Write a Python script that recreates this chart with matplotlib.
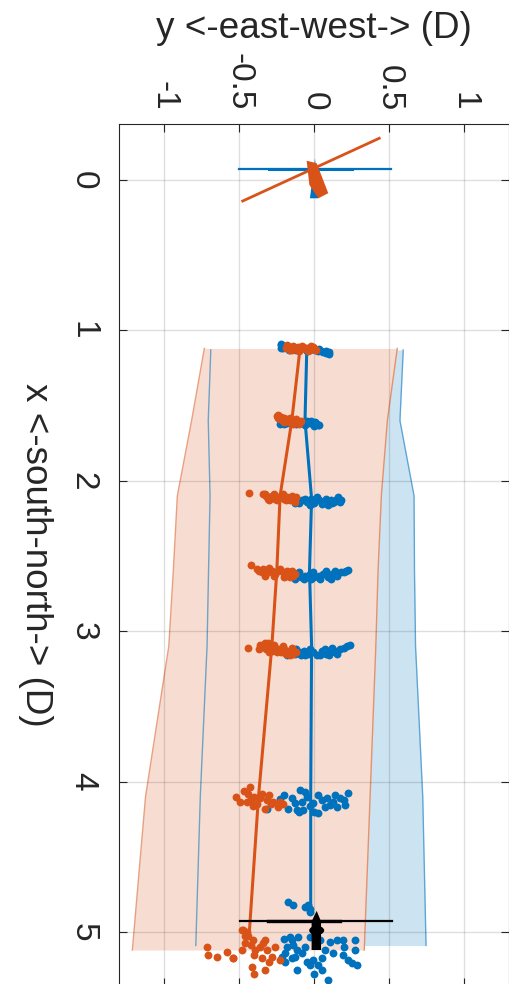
import matplotlib
matplotlib.use("Agg")
import matplotlib.pyplot as plt
from matplotlib.patches import Polygon, Ellipse

plt.rcParams['font.family'] = ['Liberation Sans', 'DejaVu Sans']
plt.rcParams['axes.unicode_minus'] = False

BLUE = '#0072BD'
ORANGE = '#D95319'
DARK = (0.15, 0.15, 0.15)

# ---------------- data ----------------
# x = south-north (drawn downward), y = east-west (drawn rightward)
x_ticks = [0, 1, 2, 3, 4, 5]
y_ticks = [-1, -0.5, 0, 0.5, 1]
y_tick_labels = ['-1', '-0.5', '0', '0.5', '1']

orange_band_x = [1.12, 1.6, 2.1, 2.6, 3.1, 4.1, 5.12]
orange_band_lo = [-0.733, -0.818, -0.913, -0.94, -0.97, -1.125, -1.213]
orange_band_hi = [0.553, 0.487, 0.447, 0.425, 0.41, 0.372, 0.333]

blue_band_x = [1.13, 1.6, 2.1, 2.6, 3.1, 4.1, 5.09]
blue_band_lo = [-0.69, -0.707, -0.695, -0.705, -0.715, -0.76, -0.79]
blue_band_hi = [0.593, 0.571, 0.665, 0.668, 0.675, 0.723, 0.745]

orange_mean_x = [1.12, 1.6, 2.1, 2.6, 3.1, 4.1, 5.0]
orange_mean_y = [-0.095, -0.15, -0.228, -0.25, -0.283, -0.372, -0.433]
blue_mean_x = [1.12, 1.6, 2.12, 2.6, 3.1, 4.1, 4.85]
blue_mean_y = [-0.05, -0.062, -0.018, -0.032, -0.018, -0.024, -0.024]

# scatter points per cluster (x, y)
orange_c1_x = [1.12, 1.11, 1.13, 1.12, 1.11, 1.125, 1.115, 1.12, 1.13, 1.11, 1.12, 1.125, 1.115,
               1.10, 1.13, 1.105, 1.135, 1.105, 1.135, 1.105, 1.13]
orange_c1_y = [-0.19, -0.17, -0.15, -0.13, -0.11, -0.09, -0.07, -0.05, -0.03, -0.01, 0.0, -0.12, -0.06,
               -0.18, -0.16, -0.14, -0.10, -0.08, -0.04, -0.02, 0.01]
blue_c1_x = [1.10, 1.11, 1.12, 1.105, 1.13, 1.14, 1.13, 1.14, 1.135, 1.145, 1.14, 1.15, 1.145, 1.13,
             1.09, 1.12, 1.15, 1.155, 1.125]
blue_c1_y = [-0.225, -0.215, -0.21, -0.20, -0.12, -0.05, 0.005, 0.025, 0.045, 0.06, 0.075, 0.09, 0.10, -0.17,
             -0.22, -0.225, 0.08, 0.095, 0.03]

orange_c2_x = [1.57, 1.58, 1.59, 1.60, 1.59, 1.61, 1.60, 1.61, 1.60, 1.605, 1.58,
               1.56, 1.575, 1.61, 1.58, 1.62, 1.59, 1.62]
orange_c2_y = [-0.25, -0.24, -0.23, -0.21, -0.19, -0.17, -0.15, -0.13, -0.11, -0.09, -0.20,
               -0.245, -0.22, -0.20, -0.16, -0.14, -0.12, -0.10]
blue_c2_x = [1.62, 1.615, 1.62, 1.61, 1.62, 1.60, 1.615, 1.625, 1.61, 1.62, 1.63,
             1.63, 1.60, 1.635, 1.63, 1.625]
blue_c2_y = [-0.23, -0.18, -0.12, -0.09, -0.07, -0.05, -0.03, -0.01, 0.005, 0.02, 0.025,
             -0.06, -0.02, 0.0, 0.03, -0.20]

orange_c3_x = [2.083, 2.09, 2.10, 2.11, 2.10, 2.12, 2.11, 2.10, 2.12, 2.11, 2.13, 2.12, 2.11, 2.13,
               2.09, 2.12, 2.085, 2.13, 2.09, 2.13, 2.10, 2.14]
orange_c3_y = [-0.435, -0.34, -0.32, -0.30, -0.28, -0.26, -0.24, -0.22, -0.20, -0.18, -0.16, -0.14, -0.12, -0.30,
               -0.33, -0.31, -0.27, -0.25, -0.21, -0.19, -0.15, -0.13]
blue_c3_x = [2.13, 2.14, 2.13, 2.14, 2.12, 2.15, 2.13, 2.14, 2.12, 2.13, 2.14, 2.12, 2.13, 2.15, 2.155,
             2.15, 2.12, 2.16, 2.11, 2.16, 2.15, 2.11, 2.14]
blue_c3_y = [-0.14, -0.11, -0.08, -0.05, -0.02, 0.0, 0.03, 0.06, 0.08, 0.11, 0.13, 0.15, 0.176, -0.10, 0.05,
             -0.13, -0.06, -0.03, 0.02, 0.09, 0.12, 0.16, 0.17]

orange_c4_x = [2.56, 2.60, 2.59, 2.61, 2.60, 2.62, 2.60, 2.61, 2.63, 2.61, 2.60, 2.62, 2.61,
               2.59, 2.63, 2.58, 2.63, 2.59, 2.64, 2.60, 2.64, 2.63]
orange_c4_y = [-0.422, -0.37, -0.34, -0.31, -0.28, -0.26, -0.24, -0.21, -0.19, -0.17, -0.15, -0.13, -0.35,
               -0.38, -0.33, -0.30, -0.27, -0.23, -0.20, -0.18, -0.16, -0.14]
blue_c4_x = [2.63, 2.62, 2.64, 2.63, 2.62, 2.64, 2.63, 2.62, 2.64, 2.62, 2.63, 2.61, 2.60, 2.593, 2.65,
             2.65, 2.61, 2.65, 2.61, 2.65, 2.60, 2.65, 2.60, 2.61]
blue_c4_y = [-0.15, -0.12, -0.09, -0.06, -0.03, 0.0, 0.03, 0.06, 0.09, 0.12, 0.15, 0.18, 0.21, 0.227, -0.02,
             -0.13, -0.10, -0.07, -0.01, 0.04, 0.08, 0.11, 0.14, 0.20]

orange_c5_x = [3.11, 3.09, 3.10, 3.12, 3.10, 3.13, 3.11, 3.12, 3.14, 3.12, 3.13, 3.15, 3.14, 3.08,
               3.12, 3.08, 3.14, 3.09, 3.14, 3.10, 3.15, 3.11, 3.16]
orange_c5_y = [-0.44, -0.36, -0.34, -0.32, -0.30, -0.28, -0.26, -0.24, -0.22, -0.20, -0.17, -0.14, -0.12, -0.33,
               -0.37, -0.31, -0.30, -0.27, -0.25, -0.21, -0.19, -0.15, -0.16]
blue_c5_x = [3.14, 3.13, 3.15, 3.14, 3.13, 3.15, 3.14, 3.16, 3.13, 3.15, 3.14, 3.13, 3.12, 3.11, 3.09, 3.16,
             3.16, 3.12, 3.16, 3.12, 3.16, 3.12, 3.16, 3.11, 3.15, 3.10]
blue_c5_y = [-0.20, -0.16, -0.13, -0.10, -0.07, -0.04, -0.01, 0.02, 0.05, 0.08, 0.11, 0.14, 0.17, 0.20, 0.238, -0.06,
             -0.18, -0.12, -0.09, -0.03, 0.04, 0.07, 0.10, 0.12, 0.15, 0.22]

orange_c6_x = [4.10, 4.038, 4.133, 4.082, 4.10, 4.11, 4.148, 4.133, 4.122, 4.133, 4.148, 4.185, 4.133, 4.082,
               4.06, 4.12, 4.16, 4.09, 4.15, 4.17]
orange_c6_y = [-0.522, -0.429, -0.495, -0.44, -0.402, -0.362, -0.384, -0.451, -0.318, -0.273, -0.207, -0.329,
               -0.229, -0.351, -0.47, -0.42, -0.41, -0.30, -0.29, -0.24]
blue_c6_x = [4.18, 4.118, 4.185, 4.11, 4.189, 4.055, 4.133, 4.10, 4.144, 4.089, 4.211, 4.11, 4.155,
             4.133, 4.11, 4.155, 4.078, 4.189, 4.144,
             4.07, 4.16, 4.12, 4.17, 4.09, 4.17, 4.12, 4.20, 4.20, 4.09]
blue_c6_y = [-0.318, -0.229, -0.173, -0.151, -0.118, -0.096, -0.084, -0.051, -0.007, 0.027, 0.027, 0.082, 0.104,
             0.127, 0.171, 0.204, 0.227, -0.073, -0.129,
             -0.06, -0.03, 0.05, 0.07, 0.14, 0.15, 0.20, -0.10, 0.0, -0.20]

orange_c7_x = [4.987, 5.03, 5.076, 5.054, 5.12, 5.12, 5.076, 5.12, 5.098, 5.164, 5.175, 5.175, 5.231,
               5.253, 5.186, 5.054, 5.098, 5.153, 5.164, 5.131, 5.175, 4.99, 5.03,
               5.0, 5.09, 5.15, 5.10, 5.20, 5.28]
orange_c7_y = [-0.473, -0.44, -0.462, -0.407, -0.484, -0.396, -0.34, -0.318, -0.262, -0.284, -0.351, -0.54, -0.418,
               -0.329, -0.229, -0.329, -0.717, -0.707, -0.651, -0.584, -0.54, -0.484, -0.46,
               -0.45, -0.42, -0.40, -0.36, -0.30, -0.40]
blue_c7_x = [4.798, 4.82, 4.831, 4.82, 4.864, 5.098, 5.054, 5.12, 5.164, 5.142, 5.098, 5.032, 5.032,
             5.032, 5.054, 5.065, 5.054, 5.054, 5.054, 5.12, 5.142, 5.153, 5.186, 5.12, 5.209, 5.22,
             5.175, 5.22, 5.22, 5.253, 5.319, 5.142, 5.175, 5.164, 5.186, 5.2,
             4.85, 5.09, 5.20, 5.25, 5.10, 5.05, 5.28]
blue_c7_y = [-0.173, -0.140, -0.062, -0.040, -0.029, -0.184, -0.151, -0.118, -0.129, -0.084, -0.062, -0.162, -0.107,
             -0.029, 0.038, 0.104, 0.149, 0.193, 0.271, 0.071, 0.127, 0.193, 0.227, 0.271, 0.249, 0.282,
             0.049, -0.029, 0.027, -0.118, 0.093, -0.196, -0.151, -0.218, -0.007, -0.196,
             -0.03, -0.14, -0.05, 0.05, 0.20, -0.20, 0.0]

orange_pts_x = orange_c1_x + orange_c2_x + orange_c3_x + orange_c4_x + orange_c5_x + orange_c6_x + orange_c7_x
orange_pts_y = orange_c1_y + orange_c2_y + orange_c3_y + orange_c4_y + orange_c5_y + orange_c6_y + orange_c7_y
blue_pts_x = blue_c1_x + blue_c2_x + blue_c3_x + blue_c4_x + blue_c5_x + blue_c6_x + blue_c7_x
blue_pts_y = blue_c1_y + blue_c2_y + blue_c3_y + blue_c4_y + blue_c5_y + blue_c6_y + blue_c7_y

# start glyphs (near x = 0)
blue_bar_y = [-0.50, 0.51]
blue_bar_x = [-0.072, -0.072]
blue_arrow_y = [0.005, 0.027, -0.029]
blue_arrow_x = [-0.144, 0.122, 0.122]
orange_bar_y = [-0.477, 0.433]
orange_bar_x = [0.14, -0.277]
orange_body_y = [-0.051, 0.016, 0.093, 0.027, -0.033]
orange_body_x = [-0.128, -0.111, 0.088, 0.122, 0.033]

# end glyph (near x = 5)
black_bar_y = [-0.495, 0.516]
black_bar_x = [4.927, 4.927]
black_arrow_y = [0.016, 0.045, 0.045, -0.018, -0.018]
black_arrow_x = [4.86, 4.93, 5.12, 5.12, 4.93]

# ---------------- figure ----------------
W, H = 509, 984
fig = plt.figure(figsize=(W / 100, H / 100), dpi=100)
ax_l, ax_r, ax_t, ax_b = 119.3, 509.3, 124.0, 986.1
ax = fig.add_axes([ax_l / W, 1 - ax_b / H, (ax_r - ax_l) / W, (ax_b - ax_t) / H])
ax.set_xlim(-1.3, 1.3)
ax.set_ylim(5.36, -0.372)

# bands
ax.fill_betweenx(blue_band_x, blue_band_lo, blue_band_hi, color='#cce3f2', lw=0, zorder=1)
ax.fill_betweenx(orange_band_x, orange_band_lo, orange_band_hi, color='#f7ddd1', lw=0, zorder=1.1)
for xs, lo, hi, c in [(blue_band_x, blue_band_lo, blue_band_hi, BLUE),
                      (orange_band_x, orange_band_lo, orange_band_hi, ORANGE)]:
    ax.plot(lo, xs, color=c, lw=1.0, alpha=0.55, zorder=1.2)
    ax.plot(hi, xs, color=c, lw=1.0, alpha=0.55, zorder=1.2)

# mean lines
ax.plot(blue_mean_y, blue_mean_x, color=BLUE, lw=2.2, zorder=3)
ax.plot(orange_mean_y, orange_mean_x, color=ORANGE, lw=2.2, zorder=3)

# points
ax.scatter(blue_pts_y, blue_pts_x, s=32, color=BLUE, lw=0, zorder=4)
ax.scatter(orange_pts_y, orange_pts_x, s=32, color=ORANGE, lw=0, zorder=4.1)

# start glyphs
ax.plot(blue_bar_y, blue_bar_x, color=BLUE, lw=1.6, zorder=5)
ax.plot([-0.3, 0.25], blue_bar_x, color=BLUE, lw=2.2, zorder=5)
ax.add_patch(Polygon(list(zip(blue_arrow_y, blue_arrow_x)), closed=True, color=BLUE, lw=0, zorder=5.1))
ax.plot(orange_bar_y, orange_bar_x, color=ORANGE, lw=2.0, zorder=5.2)
ax.add_patch(Polygon(list(zip(orange_body_y, orange_body_x)), closed=True, color=ORANGE, lw=0, zorder=5.3))

# end glyph
ax.plot(black_bar_y, black_bar_x, color='black', lw=1.6, zorder=6)
ax.plot([-0.307, 0.171], black_bar_x, color='black', lw=2.4, zorder=6)
ax.add_patch(Polygon(list(zip(black_arrow_y, black_arrow_x)), closed=True, color='black', lw=0, zorder=6.1))
ax.add_patch(Ellipse((0.016, 4.99), 0.10, 0.06, color='black', lw=0, zorder=6.1))

# axes styling
ax.set_xticks(y_ticks)
ax.set_xticklabels(y_tick_labels)
ax.set_yticks(x_ticks)
ax.set_yticklabels([str(v) for v in x_ticks])
ax.xaxis.tick_top()
ax.tick_params(axis='both', which='both', direction='in', length=5.8, width=0.8,
               color=DARK, labelcolor=DARK, labelsize=24,
               top=True, bottom=True, left=True, right=True,
               labeltop=True, labelbottom=False, labelleft=True, labelright=False)
ax.tick_params(axis='x', pad=9.5, labelrotation=-90)
ax.tick_params(axis='y', pad=15, labelrotation=-90)
for lab in ax.get_yticklabels():
    lab.set_va('center')
ax.set_axisbelow(False)
ax.grid(True, color=DARK, alpha=0.15, lw=1.0)
for sp in ax.spines.values():
    sp.set_color(DARK)
    sp.set_linewidth(0.8)

fig.text(314.3 / W, 1 - 29 / H, 'y <-east-west-> (D)', ha='center', va='center',
         fontsize=26.6, color=DARK)
fig.text(35.5 / W, 1 - 555 / H, 'x <-south-north-> (D)', ha='center', va='center',
         rotation=-90, fontsize=26.6, color=DARK)

fig.savefig('out.png', dpi=100)
